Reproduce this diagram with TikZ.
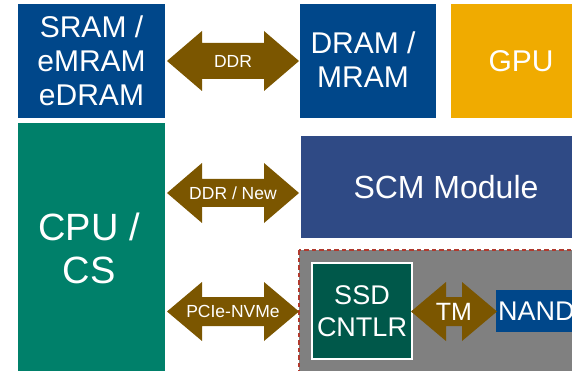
\documentclass[tikz,border=0pt]{standalone}
\usepackage{fontspec}
\setmainfont{Liberation Sans}
\definecolor{memblue}{HTML}{00478A}
\definecolor{cpugreen}{HTML}{00806A}
\definecolor{gpuorange}{HTML}{F0AB00}
\definecolor{scmblue}{HTML}{2F4A85}
\definecolor{linkbrown}{HTML}{7B5600}
\definecolor{ssdgreen}{HTML}{00584A}
\definecolor{drivegray}{HTML}{808080}
\definecolor{dashred}{HTML}{B03A2E}
% double-headed link: x1, x2, y centre, half head width, half shaft width, head length
\newcommand\linkarrow[6]{%
  \fill[linkbrown] (#1,#3) -- (#1+#6,#3-#4) -- (#1+#6,#3-#5) -- (#2-#6,#3-#5)
    -- (#2-#6,#3-#4) -- (#2,#3) -- (#2-#6,#3+#4) -- (#2-#6,#3+#5)
    -- (#1+#6,#3+#5) -- (#1+#6,#3+#4) -- cycle;}
\tikzset{
  blk/.style={text=white, align=center, inner sep=0pt},
  big/.style={blk, font=\fontsize{30}{34}\selectfont},
  lbl/.style={blk, font=\fontsize{17.5}{20}\selectfont},
}
\begin{document}
\begin{tikzpicture}[x=1pt,y=-1pt]
\useasboundingbox (0,0) rectangle (572,371);
\clip (0,0) rectangle (572,371);
% memory and compute blocks
\fill[memblue] (18,4) rectangle (165,118);
\node[big] (sram) at (91.5,61) {SRAM /\\eMRAM\\eDRAM};
\fill[cpugreen] (18,123) rectangle (165,380);
\node[blk, font=\fontsize{38}{43}\selectfont] (cpu) at (89,248) {CPU /\\CS};
\fill[memblue] (300,4) rectangle (436,118);
\node[big] (dram) at (363,60) {DRAM /\\MRAM};
\fill[gpuorange] (451,4) rectangle (592,118);
\node[big] (gpu) at (521,61) {GPU};
\fill[scmblue] (301,136) rectangle (592,238);
\node[blk, font=\fontsize{32}{36}\selectfont] (scm) at (446,187) {SCM Module};
% SSD drive
\filldraw[fill=drivegray, draw=dashred, line width=2.4pt, dash pattern=on 4.5pt off 3pt]
  (299,250) rectangle (600,400);
\filldraw[fill=ssdgreen, draw=white, line width=1.5pt] (312,263) rectangle (412,359);
\node[blk, font=\fontsize{27}{32}\selectfont] (ssd) at (362,311) {SSD\\CNTLR};
\fill[memblue] (496,290) rectangle (600,332);
\node[blk, font=\fontsize{27}{30}\selectfont, anchor=west] (nand) at (498,311) {NAND};
% links
\linkarrow{167}{299}{61}{30}{18}{35}
\node[lbl] (ddr) at (233,61) {DDR};
\linkarrow{167}{299}{193}{30}{14}{35}
\node[lbl] (ddrnew) at (233,193) {DDR / New};
\linkarrow{167}{299}{311.5}{29.5}{14.5}{35}
\node[lbl] (pcie) at (233,311.5) {PCIe-NVMe};
\linkarrow{411}{497}{311.5}{29.5}{14.5}{35}
\node[blk, font=\fontsize{25}{29}\selectfont] (tm) at (454,311.5) {TM};
\end{tikzpicture}
\end{document}
